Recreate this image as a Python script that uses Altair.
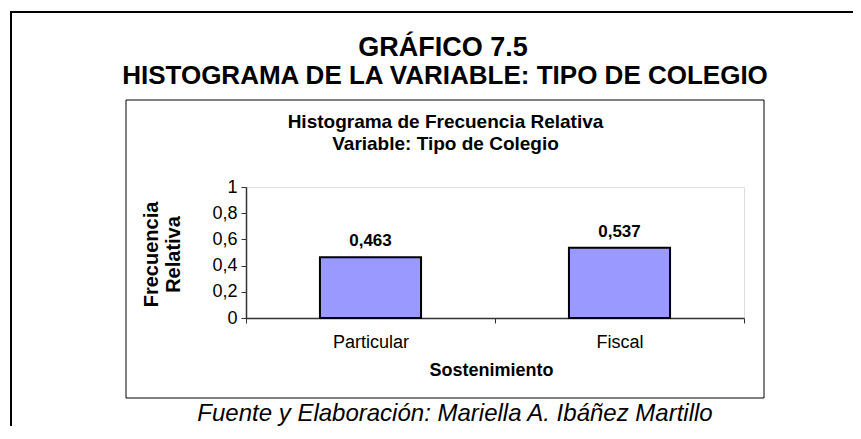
import altair as alt
import pandas as pd

# ---- data ----
categorias = ["Particular", "Fiscal"]
frecuencias = [0.463, 0.537]
etiquetas = ["0,463", "0,537"]
y_ticks = [0.0, 0.2, 0.4, 0.6, 0.8, 1.0]

titulo_1 = "GRÁFICO 7.5"
titulo_2 = "HISTOGRAMA DE LA VARIABLE: TIPO DE COLEGIO"
subtitulo_1 = "Histograma de Frecuencia Relativa"
subtitulo_2 = "Variable: Tipo de Colegio"
eje_x = "Sostenimiento"
eje_y = ["Frecuencia", "Relativa"]
fuente = "Fuente y Elaboración: Mariella A. Ibáñez Martillo"

df = pd.DataFrame({"Sostenimiento": categorias, "Frecuencia": frecuencias, "Etiqueta": etiquetas})
dummy = pd.DataFrame({"k": [0]})

W, H = 498, 131
FONT = "Liberation Sans"

x_enc = alt.X(
    "Sostenimiento:N",
    sort=categorias,
    scale=alt.Scale(paddingInner=0, paddingOuter=0),
    axis=alt.Axis(
        title=eje_x,
        labelAngle=0,
        tickBand="extent",
        labelFontSize=18,
        labelFont=FONT,
        labelColor="black",
        labelBaseline="alphabetic",
        labelPadding=24,
        tickSize=5,
        tickColor="#333333",
        domainColor="#333333",
        domainWidth=1.5,
        titleFont=FONT,
        titleFontSize=18,
        titleFontWeight="bold",
        titleColor="black",
        titleBaseline="alphabetic",
        titleAlign="center",
        titleX=245,
        titleY=57,
        grid=False,
    ),
)
y_enc = alt.Y(
    "Frecuencia:Q",
    scale=alt.Scale(domain=[0, 1], nice=False, zero=True),
    axis=alt.Axis(
        values=y_ticks,
        tickCount=len(y_ticks),
        labelExpr="replace(format(datum.value, '.1~f'), '.', ',')",
        labelFontSize=18,
        labelFont=FONT,
        labelColor="black",
        labelPadding=4,
        labelOverlap=False,
        labelFlush=False,
        labelBound=False,
        tickSize=5,
        tickColor="#333333",
        domainColor="#333333",
        domainWidth=1.5,
        grid=False,
        title=eje_y,
        titleFont=FONT,
        titleFontSize=20,
        titleFontWeight="bold",
        titleColor="black",
        titleAngle=270,
        titleAlign="center",
        titleBaseline="middle",
        titleLineHeight=22,
        titleX=-95,
        titleY=67,
    ),
)

bars = alt.Chart(df).mark_bar(
    color="#9999FF", stroke="black", strokeWidth=2, width=alt.RelativeBandSize(0.406)
).encode(x=x_enc, y=y_enc)

bar_labels = alt.Chart(df).mark_text(
    font=FONT, fontSize=17, fontWeight="bold", baseline="alphabetic", dy=-11, color="black"
).encode(x=x_enc, y=y_enc, text="Etiqueta:N")


def box(x1, y1, x2, y2, width):
    return alt.Chart(dummy).mark_rect(
        fill="transparent", stroke="black", strokeWidth=width
    ).encode(x=alt.value(x1), y=alt.value(y1), x2=alt.value(x2), y2=alt.value(y2))


def label(txt, x, y, size, weight="normal", style="normal"):
    return alt.Chart(dummy).mark_text(
        font=FONT, fontSize=size, fontWeight=weight, fontStyle=style,
        baseline="alphabetic", align="center", color="black"
    ).encode(x=alt.value(x), y=alt.value(y), text=alt.value(txt))


outer = box(-235, -175, W + 300, H + 300, 2)
inner = box(-120, -87, 518, 211, 1)

texts = [
    label(titulo_1, 197, -131, 27, "bold"),
    label(titulo_2, 199, -103, 26, "bold"),
    label(subtitulo_1, 199.5, -59, 19, "bold"),
    label(subtitulo_2, 199.5, -37, 19, "bold"),
    label(fuente, 209, 234, 24, style="italic"),
]

chart = alt.layer(outer, inner, bars, bar_labels, *texts).properties(
    width=W,
    height=H,
    autosize=alt.AutoSizeParams(type="none"),
    padding={"left": 238, "top": 179, "right": 109, "bottom": 108},
).configure_view(stroke="#808080", strokeWidth=2).configure(font=FONT, background="white")

chart.save("out.html", embed_options={"renderer": "svg", "actions": False})
